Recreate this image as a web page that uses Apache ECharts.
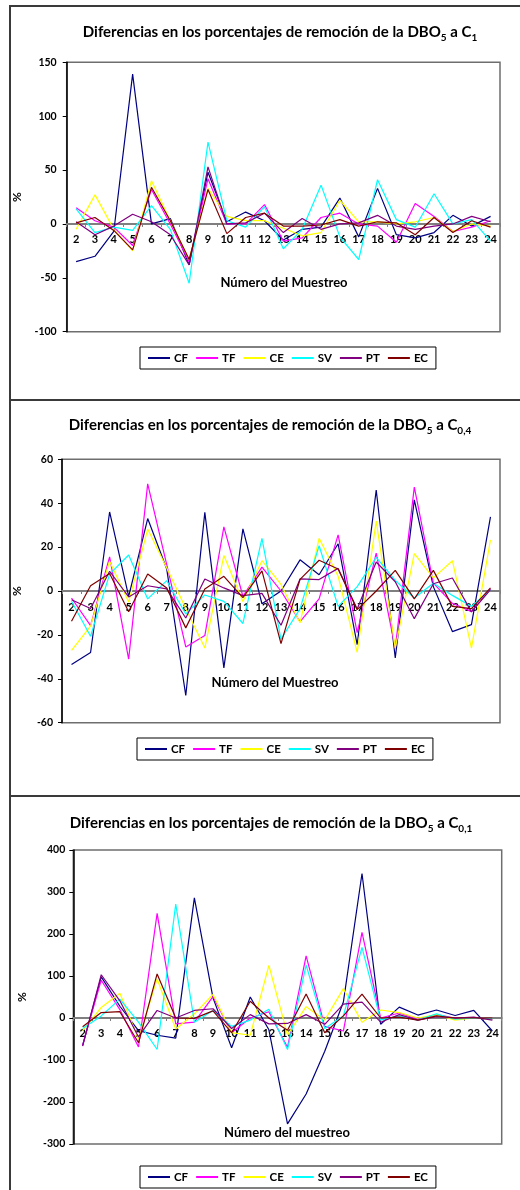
<!DOCTYPE html>
<html>
<head>
<meta charset="utf-8">
<script src="https://cdn.jsdelivr.net/npm/echarts@6/dist/echarts.min.js"></script>
<style>
html,body{margin:0;padding:0;background:#fff;}
#chart{width:520px;height:1190px;}
</style>
</head>
<body>
<div id="chart"></div>
<script>
// ---- data ----
const categories = ['2','3','4','5','6','7','8','9','10','11','12','13','14','15','16','17','18','19','20','21','22','23','24'];
const seriesNames = ['CF','TF','CE','SV','PT','EC'];
const seriesColors = ['#000080','#FF00FF','#FFFF00','#00FFFF','#800080','#800000'];

// Panel 1: DBO5 a C1
const CF_1 = [-35,-30,-7,139,0,5,-38,48,2,11,3,-15,-5,-3,24,-12,33,-10,-13,-8,8,-2,7];
const TF_1 = [15,3,-3,-20,32,0,-35,42,0,0,18,-16,-13,6,10,0,-2,-17,19,7,-7,-3,3];
const CE_1 = [-5,27,-5,-25,40,3,-33,33,7,3,3,-4,-11,-8,22,2,2,0,2,6,-7,0,-2];
const SV_1 = [14,-8,-3,-6,17,-5,-55,76,3,-3,16,-23,-5,36,-12,-33,41,4,-3,28,0,4,-16];
const PT_1 = [2,-10,-2,9,2,-10,-38,53,0,1,10,-8,5,-5,0,1,8,-2,-5,-2,0,7,2];
const EC_1 = [1,6,-6,-24,34,3,-33,32,-9,6,10,-2,-2,-1,4,-2,2,1,-10,6,-8,3,-3];

// Panel 2: DBO5 a C0,4
const CF_2 = [-33.5,-28,36,-2.5,33,10,-47.6,35.8,-35,28.3,-5.8,0,14.2,7.4,21.5,-24.4,46,-30.5,41.5,2,-18.5,-15.3,33.8];
const TF_2 = [-3.2,-15.8,15.5,-31,48.8,12,-25.5,-20.3,29.2,-2.4,10.9,0,-14,-3.6,25.6,-19,17.3,-26,47.3,3.6,-5.6,-9.4,1];
const CE_2 = [-27,-16,13.6,-5,28.2,10.5,-8,-26,16.2,-4.8,13.8,3,-14.5,24,6.7,-27.9,31.8,-26,17,6,13.8,-26,23.3];
const SV_2 = [-4.7,-20.6,7.7,16.4,-3.6,4.7,-10.5,-1.8,-4.7,-14.8,24,-22,-8,20.6,-7,2,15.3,4.8,-3.2,3.5,-2,-7,0.5];
const PT_2 = [-4,-8,9,-2.7,2.4,1,-12.3,5.5,1.4,-2.1,-1.1,-15.6,5.5,5.2,10.3,-8.2,13.2,4.2,-12.6,3.3,5.9,-9.5,0.6];
const EC_2 = [-13.8,2.4,8,-9.5,7.7,1.4,-16.8,0.9,6.7,-3,9.2,-24,5.3,14,10,-8.5,0,9.4,-3.6,9.4,-7,-8,1.4];

// Panel 3: DBO5 a C0,1
const CF_3 = [-65,98,28,-30,-41,-48,286,48,-71,50,-28,-252,-181,-79,38,344,-15,26,7,19,6,18,-31];
const TF_3 = [-65,90,20,-69,249,-14,-10,51,-35,0,15,-70,148,-20,-31,204,0,12,-3,8,0,0,-3];
const CE_3 = [-30,25,59,-50,93,-26,10,56,-35,-41,125,-40,27,-5,70,-10,19,13,0,8,-5,0,-3];
const SV_3 = [-25,5,45,-10,-75,271,-10,18,-20,-5,21,-75,126,-25,5,168,-5,5,-5,10,-3,0,-2];
const PT_3 = [-67,103,41,-45,18,0,18,22,-25,8,-14,-13,8,-15,33,38,-10,8,-5,3,0,2,-5];
const EC_3 = [-21,13,15,-59,105,0,-1,17,-35,40,0,-29,57,-35,5,57,0,2,-5,5,0,0,0];

const panelData = [
  [CF_1, TF_1, CE_1, SV_1, PT_1, EC_1],
  [CF_2, TF_2, CE_2, SV_2, PT_2, EC_2],
  [CF_3, TF_3, CE_3, SV_3, PT_3, EC_3]
];
const yMin = [-100, -60, -300];
const yMax = [150, 60, 400];
const yInterval = [50, 20, 100];
const titleSubs = ['1', '0,4', '0,1'];
const xNames = ['Número del Muestreo', 'Número del Muestreo', 'Número del muestreo'];

// ---- layout (styles/positions) ----
const FONT = 'Lato, "Open Sans", sans-serif';
const grids = [
  {left: 66.7, top: 62.3, width: 433.3, height: 269.4},
  {left: 62, top: 459.3, width: 438, height: 263.4},
  {left: 73.3, top: 850, width: 428.4, height: 294}
];
const titlePos = [[280, 32], [270, 425], [271, 823]];
const xNamePos = [[284, 283], [275, 683], [287, 1133]];
const legendPos = [[140, 347], [137, 738], [140, 1166]];
const yNameGap = [43, 39, 45];
const xLabelMargin = [10, 11, 10];
const yLabelMargin = [10, 9, 8];
const frames = [[10, 6, 530, 394], [10, 400, 530, 396], [10, 796, 530, 420]];

const chart = echarts.init(document.getElementById('chart'), null, {renderer: 'canvas'});

const xAxes = [], yAxes = [], series = [], legends = [], graphics = [];
for (let p = 0; p < 3; p++) {
  // place the category axis on the value 0 line of its grid
  const zeroOffset = -grids[p].height * (0 - yMin[p]) / (yMax[p] - yMin[p]);
  xAxes.push({
    type: 'category', gridIndex: p, data: categories, boundaryGap: true,
    position: 'bottom', offset: zeroOffset,
    axisLine: {onZero: false, lineStyle: {color: '#7f7f7f', width: 2}},
    axisTick: {show: true, length: 3, lineStyle: {color: '#7f7f7f'}},
    axisLabel: {color: '#000', fontFamily: FONT, fontWeight: 'bold', fontSize: 11, margin: xLabelMargin[p], interval: 0},
    splitLine: {show: false}
  });
  yAxes.push({
    type: 'value', gridIndex: p, min: yMin[p], max: yMax[p], interval: yInterval[p],
    name: '%', nameLocation: 'middle', nameRotate: 90, nameGap: yNameGap[p],
    nameTextStyle: {color: '#000', fontFamily: FONT, fontWeight: 'bold', fontSize: 12},
    axisLine: {show: true, onZero: false, lineStyle: {color: '#000', width: 1.5}},
    axisTick: {show: true, length: 4, lineStyle: {color: '#000'}},
    axisLabel: {color: '#000', fontFamily: FONT, fontWeight: 'bold', fontSize: 10.5, margin: yLabelMargin[p]},
    splitLine: {show: false}
  });
  for (let s = 0; s < seriesNames.length; s++) {
    series.push({
      name: seriesNames[s], type: 'line', xAxisIndex: p, yAxisIndex: p,
      data: panelData[p][s], symbol: 'none', smooth: false,
      lineStyle: {color: seriesColors[s], width: 1.2},
      itemStyle: {color: seriesColors[s]},
      emphasis: {disabled: true}, animation: false, z: 3
    });
  }
  legends.push({
    data: seriesNames, left: legendPos[p][0], top: legendPos[p][1], orient: 'horizontal',
    icon: 'rect', itemWidth: 22, itemHeight: 2, itemGap: 8,
    padding: [5, 8, 5, 8], borderColor: '#000', borderWidth: 1, backgroundColor: '#fff',
    textStyle: {color: '#000', fontFamily: FONT, fontWeight: 'bold', fontSize: 11.5, padding: [0, 0, 0, -1]},
    selectedMode: false
  });
  graphics.push({
    type: 'rect', silent: true, z: -10,
    shape: {x: frames[p][0], y: frames[p][1], width: frames[p][2], height: frames[p][3]},
    style: {fill: '#fff', stroke: '#3a3a3a', lineWidth: 2}
  });
  graphics.push({
    type: 'text', silent: true, z: 10,
    x: titlePos[p][0], y: titlePos[p][1],
    style: {
      text: '{m|Diferencias en los porcentajes de remoción de la DBO}{s|5}{m| a C}{s|' + titleSubs[p] + '}',
      align: 'center', verticalAlign: 'middle',
      rich: {
        m: {fontFamily: FONT, fontWeight: 'bold', fontSize: 15, lineHeight: 21, verticalAlign: 'middle', fill: '#000'},
        s: {fontFamily: FONT, fontWeight: 'bold', fontSize: 10, lineHeight: 10, verticalAlign: 'bottom', fill: '#000'}
      }
    }
  });
  graphics.push({
    type: 'text', silent: true, z: 10,
    x: xNamePos[p][0], y: xNamePos[p][1],
    style: {text: xNames[p], align: 'center', verticalAlign: 'middle',
      font: 'bold 13px ' + FONT, fill: '#000'}
  });
}

const option = {
  backgroundColor: '#fff',
  animation: false,
  color: seriesColors,
  grid: grids.map(g => Object.assign({show: true, borderColor: '#6e6e6e', borderWidth: 1.5, backgroundColor: 'transparent'}, g)),
  xAxis: xAxes,
  yAxis: yAxes,
  legend: legends,
  series: series,
  graphic: graphics
};
chart.setOption(option);
</script>
</body>
</html>
